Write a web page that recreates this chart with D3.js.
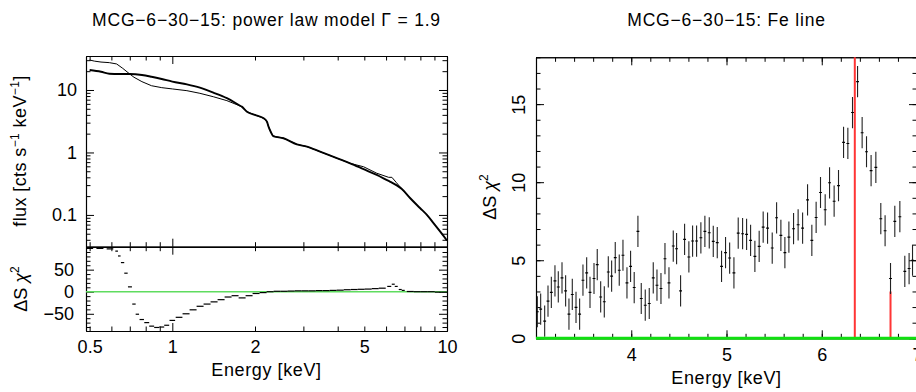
<!DOCTYPE html>
<html>
<head>
<meta charset="utf-8">
<script src="https://cdn.jsdelivr.net/npm/d3@7"></script>
<style>
    body { margin: 0; background: #fff; }
    svg { display: block; }
    text { font-family: "Liberation Sans", Arial, Helvetica, sans-serif; fill: #000; }
</style>
</head>
<body>
<svg id="chart" width="916" height="392"></svg>
<script>
// ---- left: power law fit, flux (cts/s/keV) ----
const modelE = [0.5, 0.55, 0.59, 0.64, 0.70, 0.775, 0.84, 0.915, 1.0, 1.13, 1.26, 1.41, 1.58, 1.765, 1.79,
    1.87, 2.0, 2.15, 2.21, 2.24, 2.29, 2.33, 2.54, 2.84, 3.09, 3.45, 3.97, 4.44, 4.97, 5.55, 6.13, 6.30,
    6.54, 6.85, 7.35, 7.99, 8.45, 8.93, 9.45, 10.0];
const modelFlux = [20.9, 19.6, 18.2, 18.0, 18.0, 17.4, 16.3, 15.0, 13.6, 12.3, 10.9, 9.1, 7.4, 5.6, 5.41,
    4.49, 3.98, 3.52, 3.11, 2.59, 2.07, 1.83, 1.69, 1.35, 1.24, 1.03, 0.81, 0.67, 0.54, 0.437, 0.35, 0.33,
    0.30, 0.26, 0.185, 0.128, 0.10, 0.074, 0.054, 0.039];

const dataE = [0.5, 0.52, 0.55, 0.59, 0.627, 0.66, 0.70, 0.725, 0.775, 0.84, 0.915, 1.0, 1.13, 1.26, 1.41,
    1.58, 1.765, 1.79, 1.87, 2.0, 2.15, 2.21, 2.24, 2.29, 2.33, 2.54, 2.84, 3.09, 3.45, 3.97, 4.44, 4.97,
    5.55, 6.13, 6.30, 6.54, 6.85, 7.35, 7.99, 8.45, 8.93, 9.45, 10.0];
const dataFlux = [30.2, 29.0, 28.0, 27.4, 26.1, 22.2, 18.0, 16.0, 13.6, 11.7, 10.9, 10.4, 9.75, 8.85, 7.8,
    6.75, 5.55, 5.41, 4.49, 3.98, 3.52, 3.11, 2.59, 2.07, 1.83, 1.69, 1.35, 1.24, 1.03, 0.81, 0.67, 0.59,
    0.465, 0.40, 0.40, 0.33, 0.26, 0.185, 0.128, 0.10, 0.074, 0.054, 0.039];

// residuals (delta S chi^2)
const residE = [0.50, 0.545, 0.593, 0.627, 0.641, 0.659, 0.678, 0.701, 0.725, 0.746, 0.774, 0.807, 0.841,
    0.877, 0.915, 0.954, 1.0, 1.058, 1.122, 1.19, 1.262, 1.338, 1.419, 1.505, 1.596, 1.692, 1.795, 1.903,
    2.018, 2.141, 2.27, 2.407, 2.553, 2.707, 2.871, 3.045, 3.229, 3.424, 3.632, 3.851, 4.085, 4.332, 4.594,
    4.872, 5.166, 5.479, 5.81, 6.162, 6.373, 6.534, 6.757, 6.929, 7.35, 7.795, 8.266, 8.767, 9.296, 9.858];
const residVal = [98, 98, 97, 92, 81, 66, 42, 11, -28, -51, -63, -70, -78, -81, -80, -76, -65, -58, -50,
    -41, -33, -28, -23, -18, -12, -9, -14, -9, -4, -2, 0, 1, 1, 1.5, 2, 2, 2, 2.5, 2.5, 3, 3.5, 4.5, 5,
    5.5, 6, 7, 8, 12, 17, 12, 5, 3, 0.5, 0, 0, 0, -1, -1];

// ---- right: Fe line residuals ----
const feE = [3.014, 3.049, 3.091, 3.126, 3.161, 3.199, 3.234, 3.273, 3.311, 3.346, 3.381, 3.420, 3.458,
    3.493, 3.532, 3.567, 3.609, 3.643, 3.679, 3.717, 3.759, 3.794, 3.832, 3.874, 3.913, 3.955, 3.993, 4.031,
    4.070, 4.105, 4.147, 4.189, 4.231, 4.270, 4.312, 4.354, 4.396, 4.441, 4.476, 4.518, 4.560, 4.605, 4.644,
    4.686, 4.731, 4.773, 4.819, 4.861, 4.903, 4.948, 4.990, 5.033, 5.078, 5.123, 5.169, 5.211, 5.253, 5.298,
    5.343, 5.385, 5.431, 5.480, 5.526, 5.571, 5.613, 5.655, 5.704, 5.752, 5.799, 5.851, 5.896, 5.941, 5.987,
    6.036, 6.082, 6.130, 6.176, 6.229, 6.274, 6.323, 6.376, 6.424, 6.470, 6.518, 6.568, 6.620, 6.665, 6.722,
    6.767, 6.820, 6.872, 6.917, 6.953];
const feVal = [1.70, 1.87, 1.10, 2.38, 2.94, 3.68, 3.29, 3.87, 3.04, 1.55, 2.81, 1.98, 1.55, 3.72, 4.19,
    2.94, 3.83, 4.72, 2.65, 2.34, 4.25, 3.98, 5.17, 4.36, 5.32, 3.55, 4.61, 3.25, 6.85, 2.55, 2.12, 2.23,
    3.87, 3.40, 3.19, 5.10, 3.55, 5.91, 5.74, 3.04, 6.34, 5.21, 6.23, 6.23, 6.44, 6.85, 6.76, 6.21, 6.13,
    4.61, 5.49, 5.14, 4.19, 6.74, 6.70, 6.66, 6.27, 5.25, 5.89, 7.12, 7.06, 5.78, 7.72, 6.59, 5.49, 6.48,
    7.02, 7.27, 7.06, 8.87, 6.27, 7.74, 9.34, 8.23, 9.96, 8.78, 9.78, 12.55, 12.48, 14.46, 16.44, 13.17,
    11.95, 10.74, 10.95, 7.66, 6.89, 3.83, 7.49, 7.79, 4.29, 4.47, 5.00];
const feErr = 1.0;
const feBinHalf = 0.015;
// narrow model lines (energy, height)
const lineE = [6.347, 6.722];
const lineTop = [30, 3.0];

const svg = d3.select("#chart");

const xL = d3.scaleLog().domain([0.485, 10]).range([86, 447]);
const yTop = d3.scaleLog().domain([0.031, 35]).range([246.7, 56]);
const yRes = d3.scaleLinear().domain([-89, 102]).range([331, 246.7]);

const xR = d3.scaleLinear().domain([3, 7]).range([536, 917]);
const yR = d3.scaleLinear().domain([0, 18]).range([338.3, 57.3]);

// axis helper: minor + major inward ticks, optional labels
function axisPair(gen, scale, pos, major, minor, lab) {
    const g = svg.append("g").attr("transform", pos);
    g.append("g").call(gen(scale).tickValues(minor).tickSize(-4.5).tickSizeOuter(0).tickFormat(""));
    g.append("g").call(gen(scale).tickValues(major).tickSize(-8).tickSizeOuter(0).tickFormat(""));
    if (lab) {
        g.append("g").attr("class", "labels")
            .call(gen(scale).tickValues(lab.values).tickSize(0).tickPadding(lab.pad).tickFormat(lab.fmt))
            .call(s => s.select(".domain").remove());
    }
    g.selectAll(".domain").attr("stroke", "#000").attr("stroke-width", 1.1);
    g.selectAll(".tick line").attr("stroke", "#000").attr("stroke-width", 1);
    g.selectAll(".tick text").attr("font-size", 18).attr("font-family", null);
    return g;
}

const logMinor = [];
[0.01, 0.1, 1, 10].forEach(d => d3.range(2, 10).forEach(k => logMinor.push(d * k)));

// left x axes (top panel and residual panel)
const xMinL = [0.5, 0.6, 0.7, 0.8, 0.9, 2, 3, 4, 5, 6, 7, 8, 9];
axisPair(d3.axisTop, xL, "translate(0,56)", [1, 10], xMinL);
axisPair(d3.axisBottom, xL, "translate(0,246.7)", [1, 10], xMinL);
axisPair(d3.axisTop, xL, "translate(0,246.7)", [1, 10], xMinL);
axisPair(d3.axisBottom, xL, "translate(0,331)", [1, 10], xMinL,
    { values: [0.5, 1, 2, 5, 10], pad: 9, fmt: d3.format("~g") });

// left y axes
const topMinor = logMinor.filter(v => v > 0.031 && v < 35);
axisPair(d3.axisLeft, yTop, "translate(86,0)", [0.1, 1, 10], topMinor,
    { values: [0.1, 1, 10], pad: 9, fmt: d3.format("~g") });
axisPair(d3.axisRight, yTop, "translate(447,0)", [0.1, 1, 10], topMinor);

const resMinor = d3.range(-80, 101, 10).filter(v => v % 50 !== 0);
axisPair(d3.axisLeft, yRes, "translate(86,0)", [-50, 0, 50], resMinor,
    { values: [-50, 0, 50], pad: 12, fmt: d3.format("d") });
axisPair(d3.axisRight, yRes, "translate(447,0)", [-50, 0, 50], resMinor);

// right axes
const xMinR = d3.range(3, 7.01, 0.2).map(v => +v.toFixed(1));
axisPair(d3.axisBottom, xR, "translate(0,338.3)", [3, 4, 5, 6, 7], xMinR,
    { values: [4, 5, 6, 7], pad: 10, fmt: d3.format("d") });
axisPair(d3.axisTop, xR, "translate(0,57.3)", [3, 4, 5, 6, 7], xMinR);
const yMinR = d3.range(0, 19, 1);
const yLeftR = axisPair(d3.axisLeft, yR, "translate(536,0)", [0, 5, 10, 15], yMinR,
    { values: [0, 5, 10, 15], pad: 0, fmt: d3.format("d") });
yLeftR.selectAll(".labels .tick text")
    .attr("x", null).attr("dy", "0.36em")
    .attr("text-anchor", "middle")
    .attr("transform", "translate(-17,0) rotate(-90)");
axisPair(d3.axisRight, yR, "translate(917,0)", [0, 5, 10, 15], yMinR);

// clip regions
const defs = svg.append("defs");
defs.append("clipPath").attr("id", "clipTop").append("rect")
    .attr("x", 86).attr("y", 56).attr("width", 361).attr("height", 190.7);
defs.append("clipPath").attr("id", "clipRes").append("rect")
    .attr("x", 86).attr("y", 246.7).attr("width", 361).attr("height", 84.3);
defs.append("clipPath").attr("id", "clipR").append("rect")
    .attr("x", 536).attr("y", 57.3).attr("width", 381).attr("height", 284);

// top panel curves
const gTop = svg.append("g").attr("clip-path", "url(#clipTop)");
gTop.append("path")
    .datum(dataE.map((e, i) => [e, dataFlux[i]]))
    .attr("fill", "none").attr("stroke", "#000").attr("stroke-width", 1)
    .attr("d", d3.line().x(d => xL(d[0])).y(d => yTop(d[1])));
gTop.append("path")
    .datum(modelE.map((e, i) => [e, modelFlux[i]]))
    .attr("fill", "none").attr("stroke", "#000").attr("stroke-width", 1.9)
    .attr("d", d3.line().x(d => xL(d[0])).y(d => yTop(d[1])).curve(d3.curveMonotoneX));

// residual panel: each bin drawn as a short dash, sized from its neighbours
const gRes = svg.append("g").attr("clip-path", "url(#clipRes)");
gRes.append("line")
    .attr("x1", 86).attr("x2", 447)
    .attr("y1", yRes(0)).attr("y2", yRes(0))
    .attr("stroke", "#5fdc5f").attr("stroke-width", 1.6);
const resPx = residE.map(e => xL(e));
function dashHalf(i) {
    const gaps = [];
    if (i > 0) gaps.push(resPx[i] - resPx[i - 1]);
    if (i < resPx.length - 1) gaps.push(resPx[i + 1] - resPx[i]);
    return Math.min(3.5, 0.5 * d3.min(gaps));
}
gRes.selectAll("line.res")
    .data(residE.map((e, i) => [e, residVal[i], i]))
    .join("line").attr("class", "res")
    .attr("x1", d => xL(d[0]) - dashHalf(d[2])).attr("x2", d => xL(d[0]) + dashHalf(d[2]))
    .attr("y1", d => yRes(d[1])).attr("y2", d => yRes(d[1]))
    .attr("stroke", "#000").attr("stroke-width", 1.2);

// right panel
const gR = svg.append("g").attr("clip-path", "url(#clipR)");
gR.selectAll("line.fl")
    .data(lineE.map((e, i) => [e, lineTop[i]]))
    .join("line").attr("class", "fl")
    .attr("x1", d => xR(d[0])).attr("x2", d => xR(d[0]))
    .attr("y1", yR(0)).attr("y2", d => yR(d[1]))
    .attr("stroke", "#ff3535").attr("stroke-width", 2);
const pts = gR.selectAll("g.pt")
    .data(feE.map((e, i) => [e, feVal[i]]))
    .join("g").attr("class", "pt");
pts.append("line")
    .attr("x1", d => xR(d[0])).attr("x2", d => xR(d[0]))
    .attr("y1", d => yR(d[1] - feErr)).attr("y2", d => yR(d[1] + feErr))
    .attr("stroke", "#222").attr("stroke-width", 1.1);
pts.append("line")
    .attr("x1", d => xR(d[0] - feBinHalf)).attr("x2", d => xR(d[0] + feBinHalf))
    .attr("y1", d => yR(d[1])).attr("y2", d => yR(d[1]))
    .attr("stroke", "#000").attr("stroke-width", 1.1);
gR.append("line")
    .attr("x1", 536).attr("x2", 917)
    .attr("y1", yR(0)).attr("y2", yR(0))
    .attr("stroke", "#10e010").attr("stroke-width", 3);

// titles and axis labels
svg.append("text").attr("x", 266.5).attr("y", 26).attr("text-anchor", "middle")
    .attr("font-size", 17.5).attr("letter-spacing", 0.8)
    .text("MCG\u22126\u221230\u221215: power law model \u0393 = 1.9");
svg.append("text").attr("x", 726.5).attr("y", 26).attr("text-anchor", "middle")
    .attr("font-size", 17.5).attr("letter-spacing", 0.8)
    .text("MCG\u22126\u221230\u221215: Fe line");

svg.append("text").attr("x", 266.5).attr("y", 376).attr("text-anchor", "middle")
    .attr("font-size", 18).attr("letter-spacing", 0.6).text("Energy [keV]");
svg.append("text").attr("x", 726.5).attr("y", 384).attr("text-anchor", "middle")
    .attr("font-size", 18).attr("letter-spacing", 0.6).text("Energy [keV]");

const flux = svg.append("text")
    .attr("transform", "translate(26,151) rotate(-90)")
    .attr("text-anchor", "middle").attr("font-size", 18).attr("letter-spacing", 0.4);
flux.append("tspan").text("flux [cts s");
flux.append("tspan").attr("font-size", 12).attr("dy", -7).text("\u22121");
flux.append("tspan").attr("dy", 7).text(" keV");
flux.append("tspan").attr("font-size", 12).attr("dy", -7).text("\u22121");
flux.append("tspan").attr("dy", 7).text("]");

function chiLabel(x, y) {
    const t = svg.append("text")
        .attr("transform", `translate(${x},${y}) rotate(-90)`)
        .attr("text-anchor", "middle").attr("font-size", 18);
    t.append("tspan").text("\u0394S ");
    t.append("tspan").attr("font-style", "italic").text("\u03c7");
    t.append("tspan").attr("font-size", 12).attr("dy", -8).text("2");
}
chiLabel(27, 289);
chiLabel(496, 197);
</script>
</body>
</html>
